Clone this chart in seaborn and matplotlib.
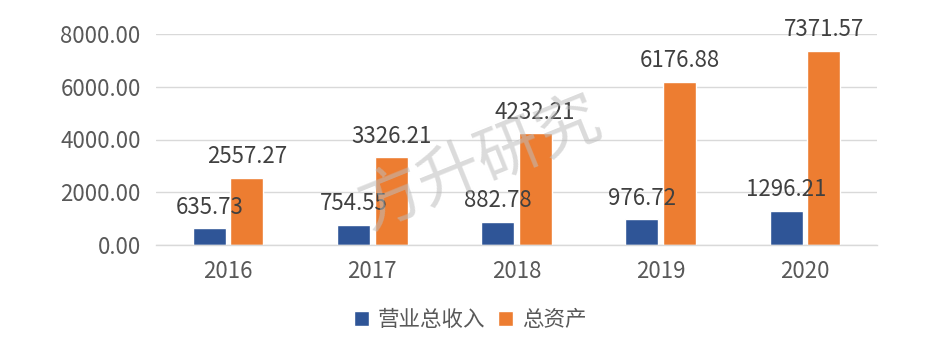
import matplotlib
matplotlib.use("Agg")
import matplotlib.pyplot as plt
import seaborn as sns
import pandas as pd

years = ["2016", "2017", "2018", "2019", "2020"]
revenue = [635.73, 754.55, 882.78, 976.72, 1296.21]
assets = [2557.27, 3326.21, 4232.21, 6176.88, 7371.57]
series_names = ["营业总收入", "总资产"]
yticks = [0, 2000, 4000, 6000, 8000]

df = pd.DataFrame({
    "year": years * 2,
    "value": revenue + assets,
    "series": [series_names[0]] * len(years) + [series_names[1]] * len(years),
})

sns.set_theme(style="white")
plt.rcParams["font.family"] = ["Noto Sans CJK SC", "DejaVu Sans"]

fig = plt.figure(figsize=(9.48, 3.49), dpi=100)
ax = fig.add_axes([156 / 948, 1 - 245 / 349, (877 - 156) / 948, (245 - 34) / 349])

sns.barplot(data=df, x="year", y="value", hue="series", ax=ax,
            palette=["#2F5597", "#ED7D31"], width=0.52, gap=0.12,
            saturation=1, legend=True)

for c in ax.containers:
    ax.bar_label(c, labels=[f"{v:.2f}" for v in c.datavalues], padding=7,
                 fontsize=16, color="#404040")

ax.set_ylim(0, 8000)
ax.set_yticks(yticks)
ax.set_yticklabels([f"{v:.2f}" for v in yticks])
ax.set_xlabel("")
ax.set_ylabel("")
ax.grid(axis="y", color="#D9D9D9", linewidth=1)
ax.set_axisbelow(True)
for s in ["top", "right", "left"]:
    ax.spines[s].set_visible(False)
ax.spines["bottom"].set_color("#D9D9D9")
ax.spines["bottom"].set_linewidth(1)
ax.tick_params(axis="y", length=0, pad=11, labelsize=16, labelcolor="#595959")
ax.tick_params(axis="x", length=0, pad=11, labelsize=16, labelcolor="#595959")

leg = ax.legend(loc="center", bbox_to_anchor=(470 / 948, 1 - 320 / 349),
                bbox_transform=fig.transFigure, ncol=2, frameon=False,
                fontsize=15.5, handlelength=0.7, handleheight=0.7,
                handletextpad=0.4, columnspacing=0.6)
for t in leg.get_texts():
    t.set_color("#595959")

fig.text(480 / 948, 1 - 163 / 349, "方升研究", fontsize=46, color="#BDBDBD",
         alpha=0.55, rotation=22, ha="center", va="center", zorder=10)

fig.savefig("out.png", dpi=100)
